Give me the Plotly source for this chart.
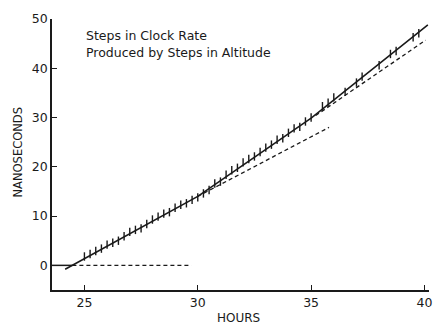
import plotly.graph_objects as go

# Measured clock offsets (ns) against elapsed time (hours)
obs_hours = [25.0, 25.25, 25.5, 25.75, 26.0, 26.25, 26.5, 26.75, 27.0, 27.25,
             27.5, 27.75, 28.0, 28.25, 28.5, 28.75, 29.0, 29.25, 29.5, 29.75,
             30.0, 30.25, 30.5, 30.75, 31.0, 31.25, 31.5, 31.75, 32.0, 32.25,
             32.5, 32.75, 33.0, 33.25, 33.5, 33.75, 34.0, 34.25, 34.5, 34.75,
             35.0, 35.5, 35.75, 36.0, 36.5, 37.0, 37.25, 38.0, 38.5, 38.75,
             39.5, 39.75]
obs_ns = [1.8, 2.3, 2.9, 3.4, 4.2, 4.6, 5.0, 5.9, 6.8, 7.2,
          7.5, 8.4, 9.3, 9.9, 10.5, 10.8, 11.7, 12.3, 12.6, 13.3,
          13.8, 14.6, 15.3, 16.6, 17.0, 18.4, 19.3, 19.8, 20.9, 21.6,
          22.1, 23.0, 23.9, 24.5, 25.5, 25.8, 26.9, 27.8, 28.1, 29.2,
          30.0, 32.3, 33.0, 34.1, 35.2, 37.1, 38.3, 40.6, 42.9, 43.5,
          46.3, 47.1]

# Piecewise fit through the observations
fit_hours = [24.15, 30.0, 35.0, 40.15]
fit_ns = [-0.8, 14.0, 29.9, 48.8]

# Level before the first step
base_hours = [23.57, 24.47]
base_ns = [0.0, 0.0]

# Extrapolations of each rate (dashed)
ext0_hours = [24.47, 29.72]
ext0_ns = [0.0, 0.0]
ext1_hours = [30.0, 35.79]
ext1_ns = [14.0, 28.0]
ext2_hours = [35.2, 40.05]
ext2_ns = [30.4, 45.7]

x_ticks = [25, 30, 35, 40]
y_ticks = [0, 10, 20, 30, 40, 50]

ink = "#1a1a1a"
dash_style = "4px,3px"

fig = go.Figure()

for hx, ny in [(ext0_hours, ext0_ns), (ext1_hours, ext1_ns), (ext2_hours, ext2_ns)]:
    fig.add_trace(go.Scatter(x=hx, y=ny, mode="lines",
                             line=dict(color=ink, width=1.3, dash=dash_style),
                             hoverinfo="skip", showlegend=False))

fig.add_trace(go.Scatter(x=base_hours, y=base_ns, mode="lines",
                         line=dict(color=ink, width=1.5),
                         hoverinfo="skip", showlegend=False))
fig.add_trace(go.Scatter(x=fit_hours, y=fit_ns, mode="lines",
                         line=dict(color=ink, width=1.6),
                         hoverinfo="skip", showlegend=False))
fig.add_trace(go.Scatter(x=obs_hours, y=obs_ns, mode="markers",
                         marker=dict(symbol="line-ns-open", size=6, color=ink,
                                     line=dict(color=ink, width=1.4)),
                         showlegend=False))

font_txt = dict(family="DejaVu Sans", size=12.5, color=ink)

fig.add_annotation(x=25.0, y=46.6, xref="x", yref="y", text="Steps in Clock Rate",
                   showarrow=False, xanchor="left", yanchor="middle", font=font_txt)
fig.add_annotation(x=25.0, y=43.3, xref="x", yref="y", text="Produced by Steps in Altitude",
                   showarrow=False, xanchor="left", yanchor="middle", font=font_txt)
fig.add_annotation(x=0, y=22.9, xref="paper", yref="y", text="NANOSECONDS",
                   showarrow=False, textangle=-90, xanchor="center", yanchor="middle",
                   xshift=-34, font=dict(family="DejaVu Sans", size=11.5, color=ink))
fig.add_annotation(x=31.78, y=0, xref="x", yref="paper", text="HOURS",
                   showarrow=False, xanchor="center", yanchor="middle",
                   yshift=-28, font=dict(family="DejaVu Sans", size=12, color=ink))

axis_common = dict(showgrid=False, zeroline=False, showline=True, linecolor=ink,
                   linewidth=1.5, ticks="inside", ticklen=5, tickwidth=1.3,
                   tickcolor=ink, mirror=False,
                   tickfont=dict(family="DejaVu Sans", size=12.5, color=ink))

fig.update_xaxes(range=[23.57, 40.2], tickvals=x_ticks, **axis_common)
fig.update_yaxes(range=[-5, 50], tickvals=y_ticks, **axis_common)

fig.update_layout(width=437, height=324,
                  margin=dict(l=52, r=5, t=19, b=34),
                  plot_bgcolor="white", paper_bgcolor="white")

fig.write_html("out.html")
